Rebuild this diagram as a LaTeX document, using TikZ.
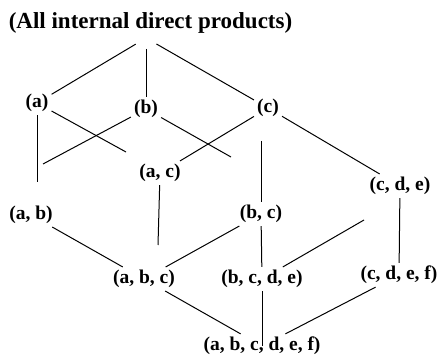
\documentclass[tikz,border=0pt]{standalone}
\usepackage{fontspec}
\setmainfont{Liberation Serif}
\usetikzlibrary{positioning}

\begin{document}
\begin{tikzpicture}[
    x=1pt, y=-1pt,
    title/.style={
        inner sep=2pt, font=\fontsize{23}{26}\selectfont\bfseries
    },
    group/.style={
        inner sep=3pt, font=\fontsize{19.5}{22}\selectfont\bfseries
    },
    line/.style={line width=1pt}
]
\useasboundingbox (0,0) rectangle (442,358);

% ============================== NODES ==============================
\node[title] (top) at (150.5,23) {(All internal direct products)};
\coordinate (apex) at (146,38);

% first row
\node[group] (a) at (37,103) {(a)};
\node[group] (b) at (146,109) {(b)};
\node[group] (c) at (268,108) {(c)};

% second row
\node[group] (ac) at (160,173) {(a, c)};
\node[group] (ab) at (31,215) {(a, b)};
\node[group] (bc) at (261,214) {(b, c)};
\node[group] (cde) at (400,186) {(c, d, e)};

% third row
\node[group] (abc) at (144,279) {(a, b, c)};
\node[group] (bcde) at (262,279) {(b, c, d, e)};
\node[group] (cdef) at (399,275) {(c, d, e, f)};

% bottom
\node[group] (all) at (262,346) {(a, b, c, d, e, f)};

% free ends
\coordinate (a_end) at (126,152);
\coordinate (a_down) at (37,182);
\coordinate (b_left) at (43,164);
\coordinate (b_right) at (231,157);
\coordinate (c_down) at (261,141);
\coordinate (ac_down) at (158,245);
\coordinate (bcde_up) at (364,220);

% ============================== LINES ==============================
\draw[line, shorten <=12pt] (apex) -- (a);
\draw[line, shorten <=11pt] (apex) -- (b);
\draw[line, shorten <=12pt] (apex) -- (c);

\draw[line] (a) -- (a_end);
\draw[line] (a.south) -- (a_down);
\draw[line] (b) -- (b_left);
\draw[line] (b) -- (b_right);
\draw[line] (c) -- (ac);
\draw[line] (c_down) -- (bc);
\draw[line] (c) -- (cde);

\draw[line] (ac) -- (ac_down);
\draw[line] (ab) -- (abc);
\draw[line] (abc) -- (bc);
\draw[line] (bc) -- (bcde);
\draw[line] (bcde) -- (bcde_up);
\draw[line] (cde) -- (cdef);

\draw[line] (abc) -- (all);
\draw[line] (bcde) -- (all.center);
\draw[line] (cdef) -- (all);

\end{tikzpicture}
\end{document}
